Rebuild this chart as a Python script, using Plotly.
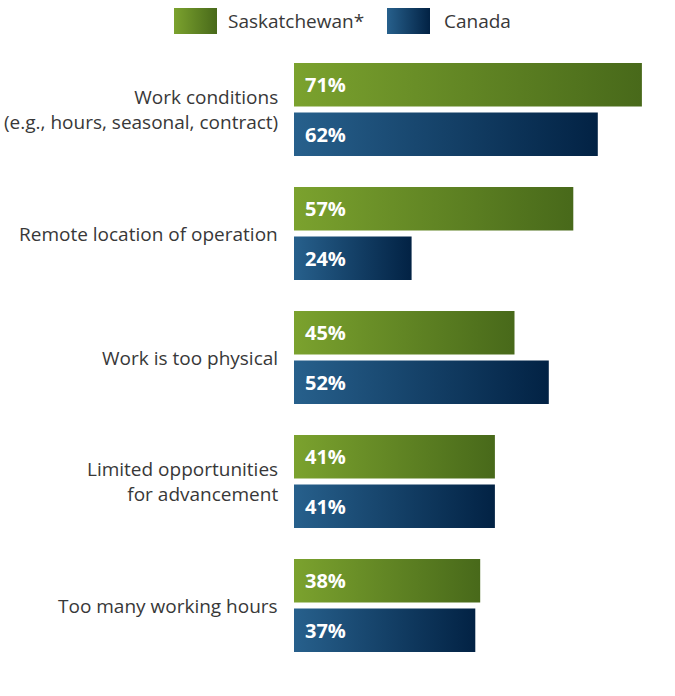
import plotly.graph_objects as go

# Survey data: share of respondents citing each reason
categories = [
    "Work conditions<br>(e.g., hours, seasonal, contract)",
    "Remote location of operation",
    "Work is too physical",
    "Limited opportunities<br>for advancement",
    "Too many working hours",
]
series_names = ["Saskatchewan*", "Canada"]
saskatchewan = [71, 57, 45, 41, 38]
canada = [62, 24, 52, 41, 37]

GREEN = ["#7ba22e", "#48691a"]
BLUE = ["#27608c", "#022244"]
FONT = "Open Sans"
TEXT_COL = "#383838"

W, H = 675, 696
ORIGIN_X = 294          # pixel where the value axis starts
PX_PER_PCT = 4.9
FIRST_GROUP_Y = 109.5   # pixel centre of the top group
GROUP_PX = 124          # pixels between group centres

n = len(categories)
offset = 0.2      # centre offset of each bar from the group centre
half_h = 0.176    # half bar thickness in group units

x_range = [-ORIGIN_X / PX_PER_PCT, (W - ORIGIN_X) / PX_PER_PCT]
top = n - 1
y_range = [top - (H - FIRST_GROUP_Y) / GROUP_PX, top + FIRST_GROUP_Y / GROUP_PX]

fig = go.Figure()
annotations = []


def add_bar(value, yc, colors, name):
    y0, y1 = yc - half_h, yc + half_h
    fig.add_trace(go.Scatter(
        x=[0, value, value, 0, 0],
        y=[y0, y0, y1, y1, y0],
        mode="lines",
        line=dict(width=0),
        fill="toself",
        fillgradient=dict(type="horizontal",
                          colorscale=[[0, colors[0]], [1, colors[1]]]),
        hoverinfo="text",
        hovertext=f"{name}: {value}%",
        showlegend=False,
    ))
    annotations.append(dict(
        x=0, y=yc, xref="x", yref="y", text=f"<b>{value}%</b>",
        showarrow=False, xanchor="left", yanchor="middle", xshift=9,
        font=dict(family=FONT, size=20, color="white"),
    ))


positions = [top - i for i in range(n)]
for i, cat in enumerate(categories):
    yc = positions[i]
    add_bar(saskatchewan[i], yc + offset, GREEN, series_names[0])
    add_bar(canada[i], yc - offset, BLUE, series_names[1])
    annotations.append(dict(
        x=0, y=yc, xref="x", yref="y", text=cat, showarrow=False,
        xanchor="right", yanchor="middle", align="right", xshift=-14,
        font=dict(family=FONT, size=19, color=TEXT_COL),
    ))

# Legend drawn on a pixel-space overlay axis so swatches keep the gradient
legend_items = [
    (series_names[0], GREEN, 174, 226),
    (series_names[1], BLUE, 387, 442),
]
for name, colors, sx, tx in legend_items:
    fig.add_trace(go.Scatter(
        x=[sx, sx + 43, sx + 43, sx, sx],
        y=[8, 8, 34, 34, 8],
        xaxis="x2", yaxis="y2",
        mode="lines", line=dict(width=0), fill="toself",
        fillgradient=dict(type="horizontal",
                          colorscale=[[0, colors[0]], [1, colors[1]]]),
        hoverinfo="skip", showlegend=False,
    ))
    annotations.append(dict(
        x=tx, y=21, xref="x2", yref="y2", text=name, showarrow=False,
        xanchor="left", yanchor="middle",
        font=dict(family=FONT, size=19, color=TEXT_COL),
    ))

fig.update_layout(
    width=W, height=H,
    margin=dict(l=0, r=0, t=0, b=0),
    paper_bgcolor="white", plot_bgcolor="white",
    showlegend=False,
    xaxis=dict(range=x_range, visible=False, fixedrange=True),
    yaxis=dict(range=y_range, visible=False, fixedrange=True),
    xaxis2=dict(domain=[0, 1], range=[0, W], overlaying="x",
                visible=False, fixedrange=True, anchor="y2"),
    yaxis2=dict(domain=[0, 1], range=[H, 0], overlaying="y",
                visible=False, fixedrange=True, anchor="x2"),
    annotations=annotations,
)

fig.write_html("out.html")
